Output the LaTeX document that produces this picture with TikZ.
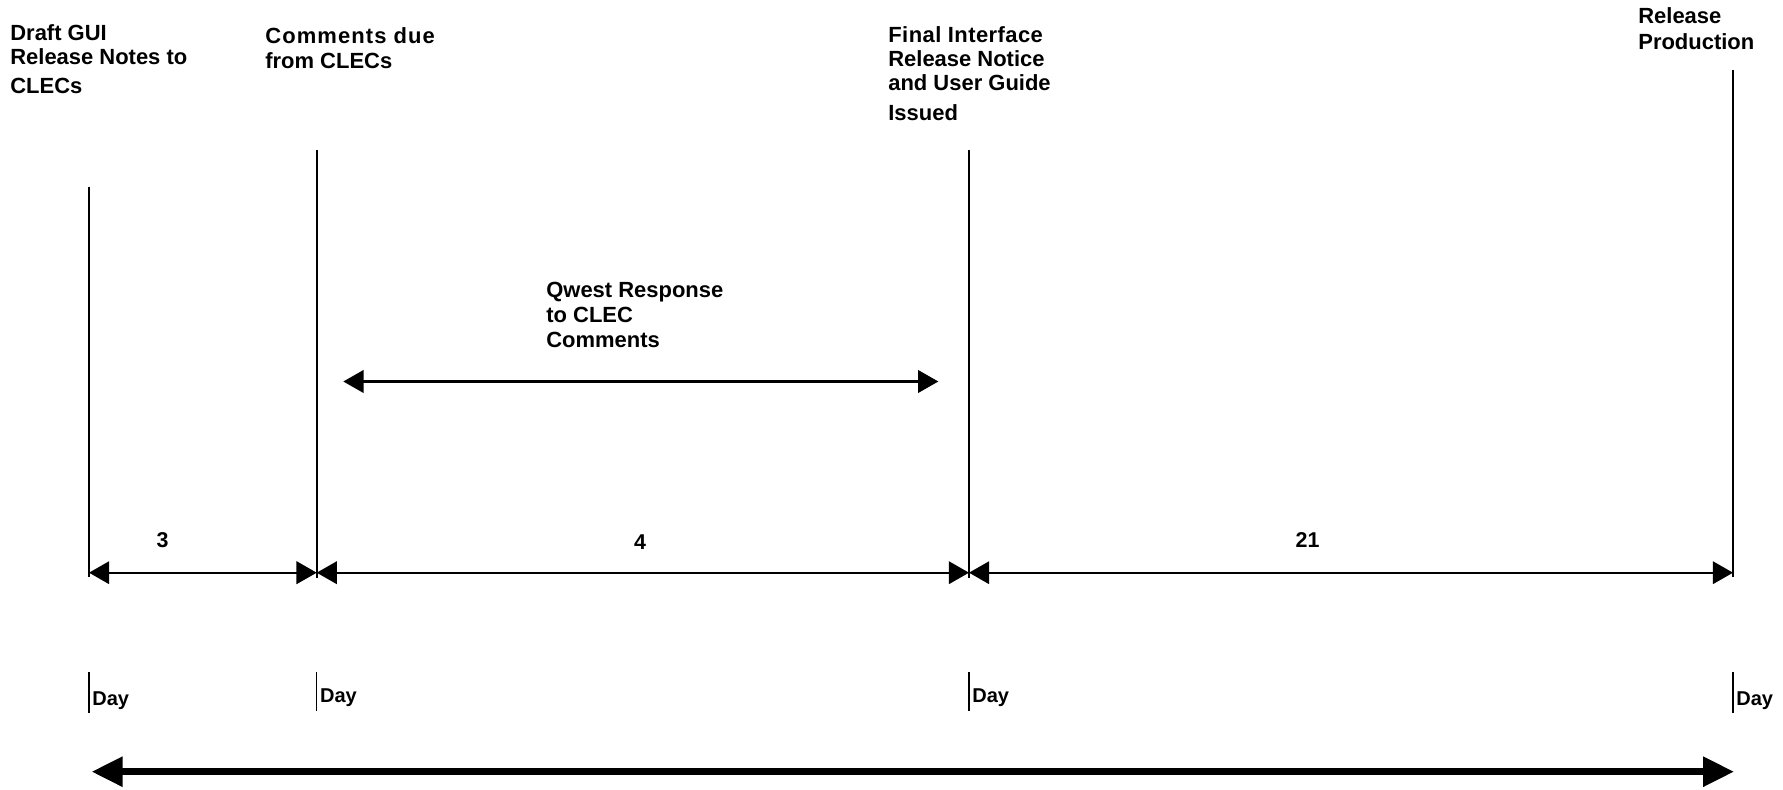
\documentclass[tikz,border=0pt]{standalone}
\usepackage{fontspec}
\setmainfont{Liberation Sans}
\usetikzlibrary{arrows.meta}

\begin{document}
\begin{tikzpicture}[x=0.02cm,y=-0.02cm]

\tikzstyle{milestone}=[anchor=base west, align=left, inner sep=0pt,
    font=\fontsize{12.5}{13.6}\selectfont\bfseries]
\tikzstyle{daycount}=[inner sep=0pt,
    font=\fontsize{12.2}{13.6}\selectfont\bfseries]
\tikzstyle{daytext}=[anchor=base west, inner sep=0pt,
    font=\fontsize{11.4}{13}\selectfont\bfseries]
\tikzstyle{span}=[line width=1.3pt,
    {Triangle[length=11.5pt,width=12.8pt]}-{Triangle[length=11.5pt,width=12.8pt]}]

\useasboundingbox (0,0) rectangle (1783,790);

  % milestone texts (placed at the baseline of their last line)
  \node[milestone] (draft) at (10,93.3) {Draft GUI\\Release Notes to\\[2.8pt]CLECs};
  \node[milestone] (comments) at (265,68.3)
    {\addfontfeature{LetterSpace=5}Comments due\\[0.6pt]from CLECs};
  \node[milestone] (final) at (888,120.7)
    {\addfontfeature{LetterSpace=2}Final Interface\\Release Notice\\[0.3pt]and User Guide\\[3.4pt]Issued};
  \node[milestone] (release) at (1638,49.3) {Release\\[1.2pt]Production};

  % milestone lines
  \coordinate (draftTop) at (89,186.7);
  \coordinate (draftBase) at (89,577);
  \coordinate (commentsTop) at (316.7,150);
  \coordinate (commentsBase) at (316.7,578);
  \coordinate (finalTop) at (969,150);
  \coordinate (finalBase) at (969,578);
  \coordinate (releaseTop) at (1733,70);
  \coordinate (releaseBase) at (1733,577);

  \draw[line width=1.2pt] (draftTop) -- (draftBase);
  \draw[line width=1.2pt] (commentsTop) -- (commentsBase);
  \draw[line width=1.2pt] (finalTop) -- (finalBase);
  \draw[line width=1.2pt] (releaseTop) -- (releaseBase);

  % response
  \node[milestone] (qwest) at (546,348) {Qwest Response\\[0.6pt]to CLEC\\[1pt]Comments};
  \coordinate (qwestLeft) at (343.3,381.5);
  \coordinate (qwestRight) at (938.3,381.5);
  \draw[span] (qwestLeft) -- (qwestRight);

  % day counts
  \coordinate (draftSpan) at (89,572.7);
  \coordinate (commentsSpan) at (316.7,572.7);
  \coordinate (finalSpan) at (969,572.7);
  \coordinate (releaseSpan) at (1733,572.7);

  \draw[span] (draftSpan) -- (commentsSpan);
  \draw[span] (commentsSpan) -- (finalSpan);
  \draw[span] (finalSpan) -- (releaseSpan);

  \node[daycount] (three) at (162.7,540.5) {3};
  \node[daycount] (four) at (640,542) {4};
  \node[daycount] (twentyOne) at (1307.6,540.5) {21};

  % day ticks
  \coordinate (draftDayTop) at (89,672);
  \coordinate (draftDayBottom) at (89,713);
  \coordinate (commentsDayTop) at (316.7,672);
  \coordinate (commentsDayBottom) at (316.7,711);
  \coordinate (finalDayTop) at (969,672);
  \coordinate (finalDayBottom) at (969,711);
  \coordinate (releaseDayTop) at (1733,672);
  \coordinate (releaseDayBottom) at (1733,713);

  \draw[line width=0.9pt] (draftDayTop) -- (draftDayBottom);
  \draw[line width=0.9pt] (commentsDayTop) -- (commentsDayBottom);
  \draw[line width=0.9pt] (finalDayTop) -- (finalDayBottom);
  \draw[line width=0.9pt] (releaseDayTop) -- (releaseDayBottom);

  \node[daytext] (draftDay) at (92,705) {Day};
  \node[daytext] (commentsDay) at (319.7,703) {Day};
  \node[daytext] (finalDay) at (972,703) {Day};
  \node[daytext] (releaseDay) at (1736,705) {Day};

  % whole interval
  \coordinate (totalLeft) at (91.7,771.7);
  \coordinate (totalRight) at (1734,771.7);
  \draw[line width=3.7pt,
    {Triangle[length=17.6pt,width=16.4pt]}-{Triangle[length=17.6pt,width=16.4pt]}]
    (totalLeft) -- (totalRight);

\end{tikzpicture}
\end{document}
